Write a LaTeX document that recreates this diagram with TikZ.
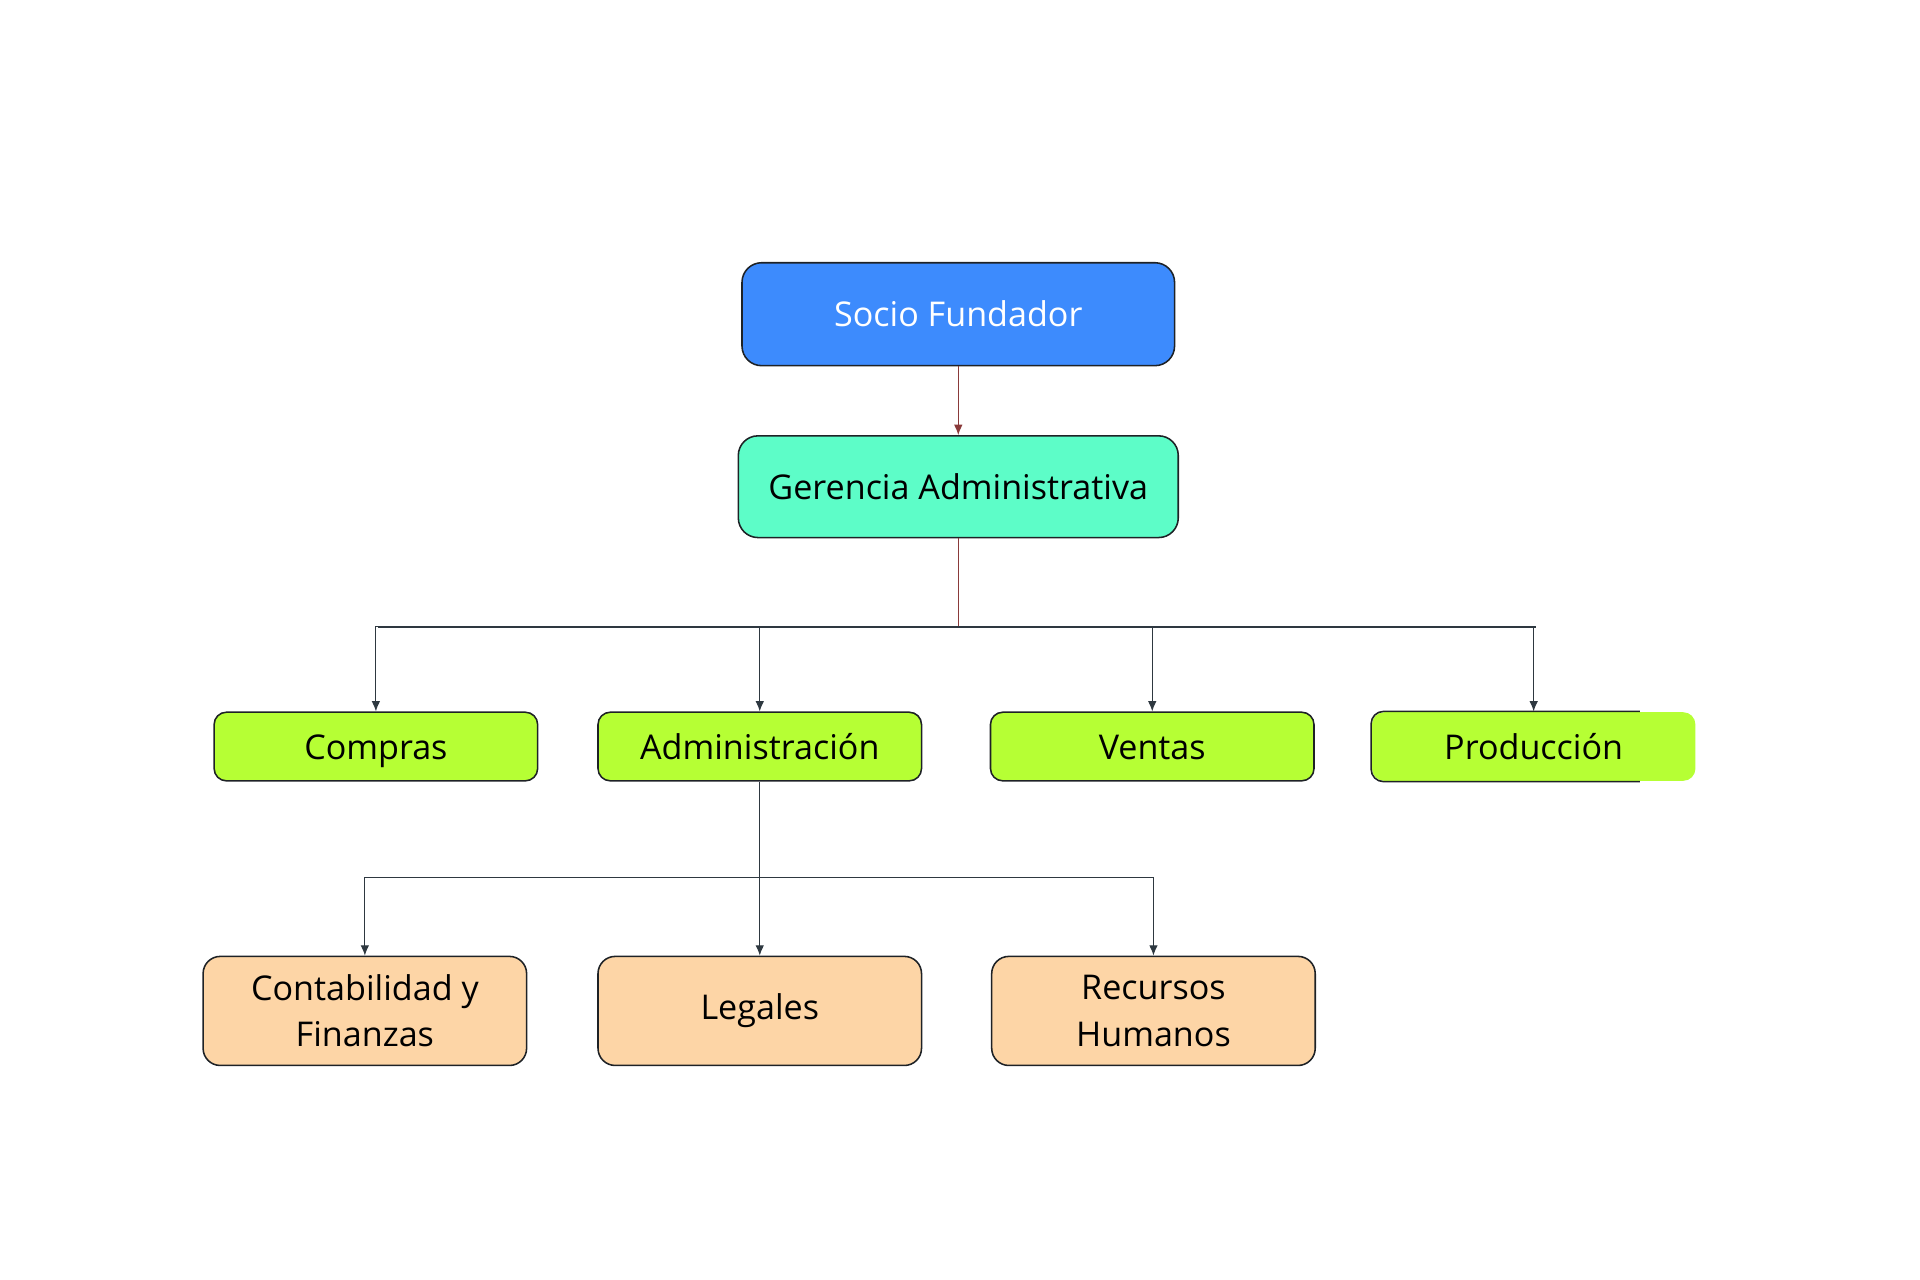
\documentclass[tikz,border=0pt]{standalone}
\usepackage{fontspec}
\setmainfont{Open Sans}
\usetikzlibrary{shapes, arrows, arrows.meta, calc, positioning}
\definecolor{boxline}{HTML}{1E2226}
\definecolor{linkred}{HTML}{8A3A3A}
\definecolor{linkgray}{HTML}{2E3840}
\definecolor{sociofill}{HTML}{3D8BFD}
\definecolor{gerenciafill}{HTML}{5DFDC8}
\definecolor{areafill}{HTML}{B6FF34}
\definecolor{subareafill}{HTML}{FDD5A6}
\tikzstyle{line} = [draw=linkgray, line width=0.7pt, -{Latex[length=6pt,width=5pt]}]
\tikzstyle{bus} = [draw=linkgray, line width=1.1pt]
\tikzstyle{block} = [rectangle, draw=boxline, line width=0.9pt, text centered, rounded corners=0.3cm, inner sep=0pt, font=\fontsize{19.8}{27}\selectfont]
\tikzstyle{oneline} = [text height=16pt, text depth=1.5pt]
\tikzstyle{area} = [block, oneline, fill=areafill, minimum width=6.6cm, minimum height=1.4cm, rounded corners=0.25cm]
\tikzstyle{subarea} = [block, align=center, fill=subareafill, minimum width=6.6cm, minimum height=2.225cm, rounded corners=0.35cm]

\begin{document}
\begin{tikzpicture}[node distance=1.2cm]
\useasboundingbox (0,0) rectangle (39.17,26.11);
\node [block, oneline, fill=sociofill, text=white, minimum width=8.825cm, minimum height=2.1cm, rounded corners=0.4cm] (socio) at (19.55,19.7) {Socio Fundador};
\node [block, oneline, fill=gerenciafill, minimum width=8.975cm, minimum height=2.075cm, rounded corners=0.4cm, below=1.4cm of socio] (gerencia) {Gerencia Administrativa};
\node [area] (admin) at (15.5,10.88) {Administración};
\node [area, left=1.2cm of admin] (compras) {Compras};
\node [area, right=1.375cm of admin] (ventas) {Ventas};
\node [area, draw=none, right=1.15cm of ventas] (produccion) {Producción};
\node [subarea, below=3.55cm of admin] (legales) {Legales};
\node [subarea, left=1.425cm of legales] (contab) {Contabilidad y\\Finanzas};
\node [subarea, right=1.4cm of legales] (recursos) {Recursos\\Humanos};
% borde incompleto de produccion
\draw [draw=boxline, line width=0.9pt, rounded corners=0.25cm] ([xshift=-1.15cm]produccion.north east) -- (produccion.north west) -- (produccion.south west) -- ([xshift=-1.15cm]produccion.south east);
\coordinate (bus1) at ([yshift=-1.8cm]gerencia.south);
\coordinate (bus2) at ([yshift=-1.95cm]admin.south);
\path [line, draw=linkred] (socio) -- (gerencia);
\draw [draw=linkred, line width=0.7pt] (gerencia) -- (bus1);
\draw [bus] (bus1) -| ([xshift=0.05cm]compras.north |- bus1);
\draw [bus] (bus1) -| ([xshift=0.05cm]produccion.north |- bus1);
\path [line] (bus1) -| (compras);
\path [line] (bus1) -| (admin);
\path [line] (bus1) -| (ventas);
\path [line] (bus1) -| (produccion);
\path [line] (admin) -- (legales);
\path [line] (bus2) -| (contab);
\path [line] (bus2) -| (recursos);
\end{tikzpicture}
\end{document}
